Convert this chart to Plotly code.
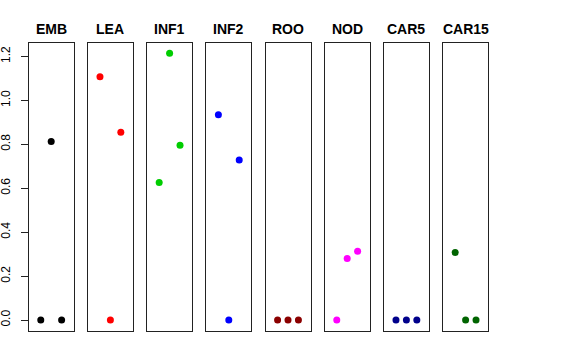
import plotly.graph_objects as go

# ---- data ----
panels = ["EMB", "LEA", "INF1", "INF2", "ROO", "NOD", "CAR5", "CAR15"]
positions = [1, 2, 3]
values = {
    "EMB":   [0.0, 0.813, 0.0],
    "LEA":   [1.107, 0.0, 0.855],
    "INF1":  [0.626, 1.214, 0.796],
    "INF2":  [0.934, 0.0, 0.728],
    "ROO":   [0.0, 0.0, 0.0],
    "NOD":   [0.0, 0.280, 0.313],
    "CAR5":  [0.0, 0.0, 0.0],
    "CAR15": [0.307, 0.0, 0.0],
}
colors = ["#000000", "#FF0000", "#00CD00", "#0000FF", "#8B0000", "#FF00FF", "#00008B", "#006400"]
y_ticks = [0.0, 0.2, 0.4, 0.6, 0.8, 1.0, 1.2]

# ---- layout geometry (pixels) ----
W, H = 576, 360
left0, step, pw = 28.7, 59.2, 45.0
ptop, pbot = 42.7, 330.7

ymax = max(max(v) for v in values.values())
ypad = 0.04 * ymax
yr = [0 - ypad, ymax + ypad]
xr = [0 - 0.16, 4 + 0.16]

fig = go.Figure()
layout = dict(
    width=W, height=H,
    margin=dict(l=0, r=0, t=0, b=0),
    paper_bgcolor="white", plot_bgcolor="white",
    showlegend=False,
    font=dict(family="Liberation Sans, Arial, sans-serif", color="black"),
)
annotations = []
for i, name in enumerate(panels):
    n = i + 1
    xa = "x" if n == 1 else f"x{n}"
    ya = "y" if n == 1 else f"y{n}"
    fig.add_trace(go.Scatter(
        x=positions, y=values[name], mode="markers",
        marker=dict(color=colors[i], size=7),
        xaxis=xa, yaxis=ya, hoverinfo="skip",
    ))
    x0 = left0 + i * step
    layout["xaxis" if n == 1 else f"xaxis{n}"] = dict(
        domain=[x0 / W, (x0 + pw) / W], range=xr,
        showticklabels=False, ticks="", showgrid=False, zeroline=False,
        showline=True, mirror=True, linecolor="#222", linewidth=1,
        anchor=ya, automargin=False,
    )
    yax = dict(
        domain=[1 - pbot / H, 1 - ptop / H], range=yr,
        showgrid=False, zeroline=False,
        showline=True, mirror=True, linecolor="#222", linewidth=1,
        anchor=xa, automargin=False,
    )
    if n == 1:
        yax.update(
            tickmode="array", tickvals=y_ticks,
            ticktext=[f"{t:.1f}" for t in y_ticks],
            ticks="outside", ticklen=7, tickcolor="#222",
            tickangle=-90, tickfont=dict(size=12, color="black"),
            ticklabelstandoff=6,
        )
    else:
        yax.update(showticklabels=False, ticks="")
    layout["yaxis" if n == 1 else f"yaxis{n}"] = yax
    annotations.append(dict(
        text=f"<b>{name}</b>", x=(x0 + pw / 2) / W, y=1 - 29 / H,
        xref="paper", yref="paper", showarrow=False,
        xanchor="center", yanchor="middle",
        font=dict(size=14, color="black"),
    ))
layout["annotations"] = annotations
fig.update_layout(**layout)
fig.write_html(
    "out.html",
    config={"displayModeBar": False, "staticPlot": True},
    post_script="document.body.style.margin='0';document.body.style.overflow='hidden';",
)
